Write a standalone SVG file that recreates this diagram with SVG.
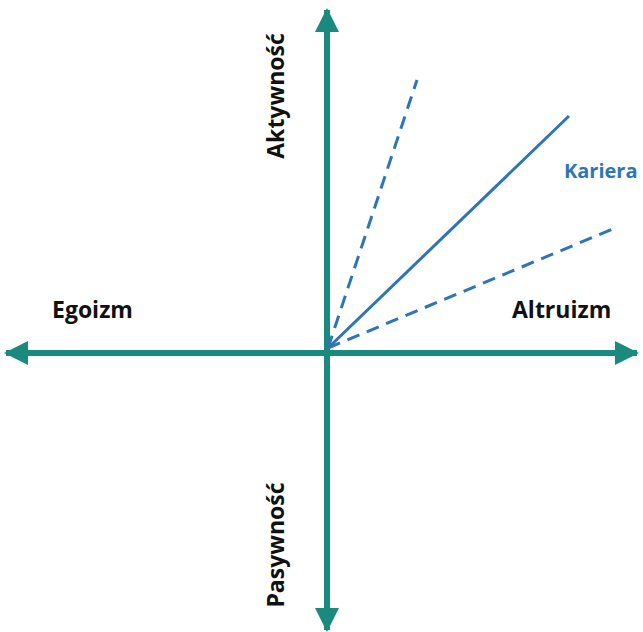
<svg xmlns="http://www.w3.org/2000/svg" width="643" height="632" viewBox="0 0 643 632">
<style>
.axis{stroke:#1B8A7E;stroke-width:6;fill:none}
.ray{stroke:#2E75B6;stroke-width:3;fill:none}
.dash{stroke-dasharray:13 8}
.lbl{font-family:"Open Sans","Liberation Sans",sans-serif;font-weight:bold;font-size:23px;fill:#111}
.blue{fill:#2E75B6;font-size:20px}
</style>
<defs>
<marker id="ah" markerUnits="userSpaceOnUse" markerWidth="26" markerHeight="26" refX="22" refY="12" orient="auto">
<path d="M0,0 L24,12 L0,24 Z" fill="#1B8A7E"/>
</marker>
</defs>
<rect width="643" height="632" fill="#fff"/>
<g id="connectors">
<line class="axis" x1="327" y1="353" x2="327" y2="10" marker-end="url(#ah)"/>
<line class="axis" x1="327" y1="353" x2="327" y2="630" marker-end="url(#ah)"/>
<line class="axis" x1="327" y1="353" x2="6" y2="353" marker-end="url(#ah)"/>
<line class="axis" x1="327" y1="353" x2="637" y2="353" marker-end="url(#ah)"/>
<line class="ray dash" x1="328" y1="348" x2="417" y2="80"/>
<line class="ray" x1="328" y1="348" x2="569" y2="116"/>
<line class="ray dash" x1="328" y1="348" x2="615" y2="228"/>
</g>
<g id="aktywnosc"><text class="lbl" transform="translate(284,96) rotate(-90)" text-anchor="middle">Aktywność</text></g>
<g id="pasywnosc"><text class="lbl" transform="translate(284,545) rotate(-90)" text-anchor="middle">Pasywność</text></g>
<g id="egoizm"><text class="lbl" x="52" y="318">Egoizm</text></g>
<g id="altruizm"><text class="lbl" x="512" y="318">Altruizm</text></g>
<g id="kariera"><text class="lbl blue" x="564" y="178">Kariera</text></g>
</svg>
